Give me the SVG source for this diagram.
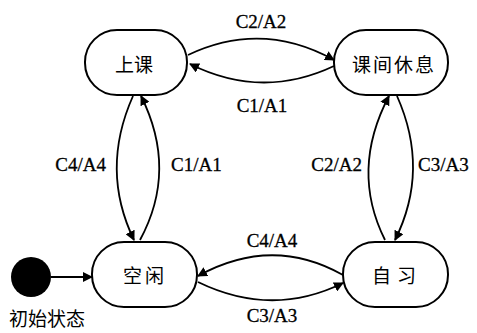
<svg xmlns="http://www.w3.org/2000/svg" width="477" height="333" viewBox="0 0 477 333">
<defs>
<marker id="ah" viewBox="0 0 10 10" refX="9" refY="5" markerWidth="10" markerHeight="10" markerUnits="userSpaceOnUse" orient="auto">
<path d="M0,0 L10,5 L0,10 z" fill="#000"/>
</marker>
</defs>
<style>
.st{fill:#fff;stroke:#000;stroke-width:2}
.cn{font-family:"Noto Sans CJK SC","Noto Sans",sans-serif;font-size:19px;fill:#000}
.lb{font-family:"Liberation Serif","DejaVu Serif",serif;font-size:19px;fill:#000;stroke:#000;stroke-width:0.3}
.ed{fill:none;stroke:#000;stroke-width:1.8;marker-end:url(#ah)}
</style>
<rect width="477" height="333" fill="#fff"/>
<g id="connectors">
<path class="ed" d="M188,55 Q262,20 334,60"/>
<path class="ed" d="M334,66 Q262,100 190,64"/>
<path class="ed" d="M133,96 Q100,170 134,240"/>
<path class="ed" d="M140,240 Q178,170 141,96"/>
<path class="ed" d="M385,240 Q350,170 389,96"/>
<path class="ed" d="M397,96 Q430,170 395,240"/>
<path class="ed" d="M343,275 Q272,235 198,276"/>
<path class="ed" d="M198,282 Q272,318 343,283"/>
<path class="ed" d="M51,277 L92,277"/>
<text class="lb" x="261" y="28" text-anchor="middle">C2/A2</text>
<text class="lb" x="262" y="112" text-anchor="middle">C1/A1</text>
<text class="lb" x="106" y="171" text-anchor="end">C4/A4</text>
<text class="lb" x="171" y="171">C1/A1</text>
<text class="lb" x="362" y="171" text-anchor="end">C2/A2</text>
<text class="lb" x="418" y="171">C3/A3</text>
<text class="lb" x="272" y="247" text-anchor="middle">C4/A4</text>
<text class="lb" x="272" y="322" text-anchor="middle">C3/A3</text>
</g>
<g id="n-shangke">
<rect class="st" x="85" y="30" width="102" height="65" rx="32" ry="32"/>
<text class="cn" x="134" y="72" text-anchor="middle">上课</text>
</g>
<g id="n-kejian">
<rect class="st" x="334" y="30" width="114" height="65" rx="32" ry="32"/>
<text class="cn" x="394" y="72" text-anchor="middle" letter-spacing="2">课间休息</text>
</g>
<g id="n-kongxian">
<rect class="st" x="92" y="242" width="105" height="65" rx="32" ry="32"/>
<text class="cn" x="145" y="283" text-anchor="middle" letter-spacing="3">空闲</text>
</g>
<g id="n-zixi">
<rect class="st" x="343" y="242" width="105" height="65" rx="32" ry="32"/>
<text class="cn" x="397" y="283" text-anchor="middle" letter-spacing="6">自习</text>
</g>
<g id="n-init">
<circle cx="31" cy="277" r="20" fill="#000"/>
<text class="cn" x="47" y="326" text-anchor="middle" font-size="18">初始状态</text>
</g>
</svg>
